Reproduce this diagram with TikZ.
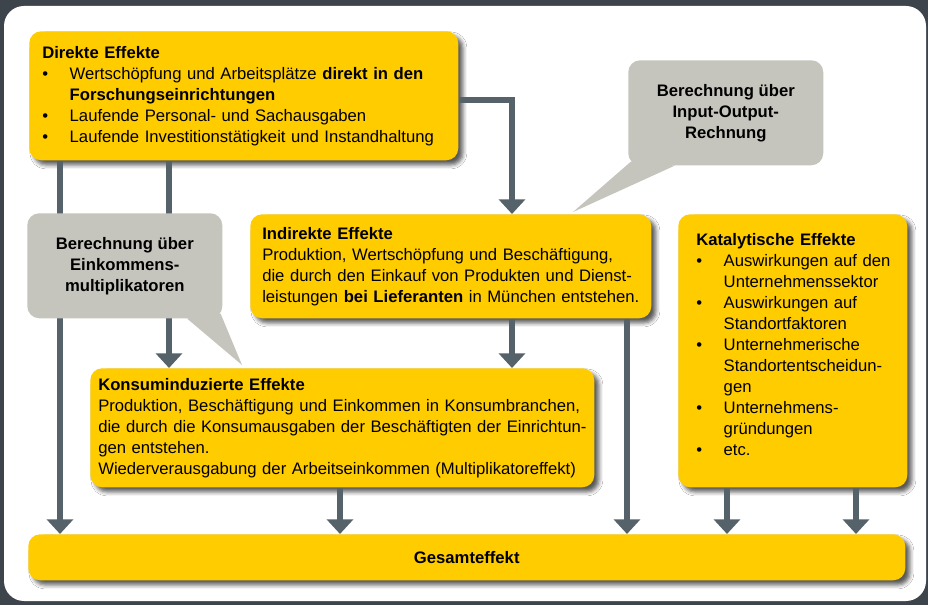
\documentclass[tikz,border=0pt]{standalone}
\usepackage{fontspec}
\setmainfont{Liberation Sans}
\usepackage{tikz}
\usetikzlibrary{positioning,arrows.meta,calc,shadows.blur}
\definecolor{rahmen}{HTML}{3D444C}
\definecolor{gelb}{HTML}{FFCC00}
\definecolor{blasefarbe}{HTML}{C6C5BD}
\definecolor{pfeilfarbe}{HTML}{56626A}
\newcommand{\effont}{\fontsize{12.5pt}{15.75pt}\selectfont}
\newcommand{\pkt}[1]{\par\noindent\hangindent=20.6pt\hangafter=1\makebox[20.6pt][l]{\textbullet}#1}
\tikzset{
  effekt/.style = {fill=gelb, rounded corners=9pt, anchor=north west, inner sep=0pt,
                   align=left, font=\effont,
                   blur shadow={shadow xshift=3.5pt, shadow yshift=-3.5pt,
                                shadow blur radius=3pt, shadow opacity=65}},
  blase/.style  = {fill=blasefarbe, rounded corners=9pt, anchor=north west, inner sep=0pt,
                   align=center, font=\effont\bfseries,
                   minimum width=146.25pt, minimum height=78.75pt},
  pfeil/.style  = {-{Triangle[width=19.5pt,length=11pt]}, draw=pfeilfarbe, line width=4.5pt},
}
\begin{document}
\begin{tikzpicture}[x=0.75pt,y=-0.75pt]
  \useasboundingbox (0,0) rectangle (928,605);
  \fill[rahmen] (0,0) rectangle (928,605);
  \fill[white,rounded corners=15pt] (4,6) rectangle (926,601);
  % Effekte
  \node[effekt, text width=321.75pt, minimum height=96.75pt] (direkt) at (29,31)
    {\leftskip=9.75pt\textbf{Direkte Effekte}
     \pkt{Wertschöpfung und Arbeitsplätze \textbf{direkt in den}\newline\textbf{Forschungseinrichtungen}}
     \pkt{Laufende Personal- und Sachausgaben}
     \pkt{Laufende Investitionstätigkeit und Instandhaltung}\par};
  \node[effekt, text width=300.75pt, minimum height=78pt] (indir) at (250,214)
    {\leftskip=9pt\textbf{Indirekte Effekte}\par
     Produktion, Wertschöpfung und Beschäftigung,\newline
     die durch den Einkauf von Produkten und Dienst-\newline
     leistungen \textbf{bei Lieferanten} in München entstehen.\par};
  \node[effekt, text width=171.75pt, minimum height=204.75pt] (katal) at (678,214)
    {\leftskip=13.5pt\textbf{Katalytische Effekte}
     \pkt{Auswirkungen auf den\newline Unternehmenssektor}
     \pkt{Auswirkungen auf\newline Standortfaktoren}
     \pkt{Unternehmerische\newline Standortentscheidun-\newline gen}
     \pkt{Unternehmens-\newline gründungen}
     \pkt{etc.}\par\kern10pt};
  \node[effekt, text width=378pt, minimum height=89.25pt] (konsum) at (90,368)
    {\leftskip=6pt\textbf{Konsuminduzierte Effekte}\par
     Produktion, Beschäftigung und Einkommen in Konsumbranchen,\newline
     die durch die Konsumausgaben der Beschäftigten der Einrichtun-\newline
     gen entstehen.\par
     Wiederverausgabung der Arbeitseinkommen (Multiplikatoreffekt)\par};
  \node[effekt, align=center, text width=657.75pt, minimum height=34.5pt] (ges) at (28,534)
    {\textbf{Gesamteffekt}};
  % Pfeile
  \draw[pfeil] ($(direkt.south west)+(140,0)$) coordinate (p2) -- (p2 |- konsum.north);
  \draw[pfeil,line join=miter] ($(direkt.north east)+(0,69)$) -| ($(indir.north west)+(262,0)$);
  \draw[pfeil] ($(indir.south west)+(262,0)$) coordinate (p4) -- (p4 |- konsum.north);
  \foreach \q/\dx in {direkt/31, konsum/250, indir/377, katal/49, katal/178}
    \draw[pfeil] ($(\q.south west)+(\dx,0)$) coordinate (p) -- (p |- ges.north);
  % Sprechblasen
  \node[blase] (io) at (628,60) {Berechnung über\\Input-Output-\\Rechnung};
  \coordinate (iospitze) at ($(indir.north west)+(323,-2)$);
  \fill[blasefarbe] ($(io.south west)+(3,-4)$) -- ($(io.south west)+(47,0)$) -- (iospitze) -- cycle;
  \node[blase] (ek) at (27,213) {Berechnung über\\Einkommens-\\multiplikatoren};
  \coordinate (ekspitze) at ($(konsum.north west)+(152,-3)$);
  \fill[blasefarbe] ($(ek.south west)+(160,0)$) -- ($(ek.south east)+(-2,-5)$) -- (ekspitze) -- cycle;
\end{tikzpicture}
\end{document}
